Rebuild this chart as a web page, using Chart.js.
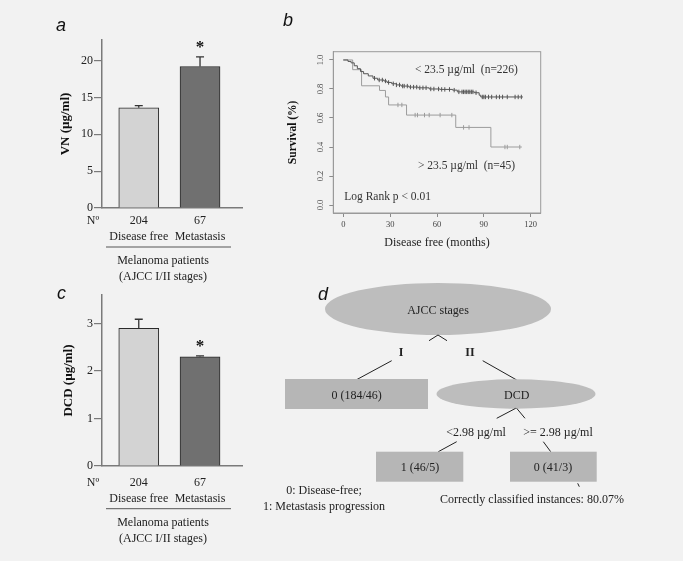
<!DOCTYPE html>
<html>
<head>
<meta charset="utf-8">
<script src="https://cdn.jsdelivr.net/npm/chart.js@4.4.1/dist/chart.umd.min.js"></script>
<style>
  html, body { margin: 0; padding: 0; background: #f2f2f2; }
  #page { position: relative; width: 683px; height: 561px; overflow: hidden; }
  .panel { position: absolute; }
  #overlay { position: absolute; left: 0; top: 0; pointer-events: none; }
</style>
</head>
<body>
<div id="page">
  <canvas id="chartA" class="panel" width="260" height="290" style="left:0;top:0"></canvas>
  <canvas id="chartB" class="panel" width="290" height="255" style="left:270px;top:0"></canvas>
  <canvas id="chartC" class="panel" width="260" height="281" style="left:0;top:280px"></canvas>

  <svg id="overlay" width="683" height="561" font-family="Liberation Serif" font-size="12" fill="#222">
    <g font-family="Liberation Sans" font-style="italic" font-size="18" fill="#111">
      <text x="56" y="31">a</text>
      <text x="283" y="26">b</text>
      <text x="57" y="299">c</text>
      <text x="318" y="300">d</text>
    </g>
    <!-- decision tree (panel d) -->
    <ellipse cx="438" cy="309" rx="113" ry="26" fill="#bdbdbd"/>
    <text x="438" y="310" text-anchor="middle" dominant-baseline="central">AJCC stages</text>
    <polyline points="429,340.7 438,335 447,340.7" fill="none" stroke="#222" stroke-width="1"/>
    <text x="401" y="352" text-anchor="middle" dominant-baseline="central" font-weight="bold">I</text>
    <text x="470" y="352" text-anchor="middle" dominant-baseline="central" font-weight="bold">II</text>
    <line x1="391.7" y1="360.7" x2="356" y2="380" stroke="#222"/>
    <line x1="482.7" y1="360.7" x2="516.7" y2="380" stroke="#222"/>
    <rect x="285" y="379" width="143" height="30" fill="#b6b6b6"/>
    <text x="356.7" y="394.5" text-anchor="middle" dominant-baseline="central">0 (184/46)</text>
    <ellipse cx="516" cy="394" rx="79.5" ry="14.7" fill="#bdbdbd"/>
    <text x="516.7" y="394.5" text-anchor="middle" dominant-baseline="central">DCD</text>
    <line x1="496.7" y1="418.3" x2="515.7" y2="408.3" stroke="#222"/>
    <line x1="516.7" y1="408.3" x2="525" y2="418.3" stroke="#222"/>
    <text x="476" y="432" text-anchor="middle" dominant-baseline="central">&lt;2.98 µg/ml</text>
    <text x="558" y="432" text-anchor="middle" dominant-baseline="central">&gt;= 2.98 µg/ml</text>
    <line x1="456.7" y1="441.7" x2="438.3" y2="451.7" stroke="#222"/>
    <line x1="543.3" y1="441.7" x2="550.7" y2="451.7" stroke="#222"/>
    <rect x="376" y="451.7" width="87.3" height="30" fill="#b6b6b6"/>
    <text x="420" y="467" text-anchor="middle" dominant-baseline="central">1 (46/5)</text>
    <rect x="510" y="451.7" width="86.7" height="30" fill="#b6b6b6"/>
    <text x="553" y="467" text-anchor="middle" dominant-baseline="central">0 (41/3)</text>
    <line x1="577.7" y1="483.3" x2="579.3" y2="486.7" stroke="#222"/>
    <text x="324" y="494" text-anchor="middle">0: Disease-free;</text>
    <text x="324" y="510" text-anchor="middle">1: Metastasis progression</text>
    <text x="440" y="503">Correctly classified instances: 80.07%</text>
  </svg>
</div>

<script>
// ---- data ----
const groups = ['Disease free', 'Metastasis'];
const counts = ['204', '67'];
const groupPos = [1, 2];

const vnMeans = [13.6, 19.2];
const vnErrs = [0.3, 1.3];
const vnTicks = [0, 5, 10, 15, 20];

const dcdMeans = [2.9, 2.3];
const dcdErrs = [0.19, 0.02];
const dcdTicks = [0, 1, 2, 3];

const monthTicks = [0, 30, 60, 90, 120];
const survTicks = [0, 0.2, 0.4, 0.6, 0.8, 1.0];

// Kaplan-Meier steps [months, survival]
const lowVnCurve = [[0, 1.0], [3, 0.99], [5, 0.98], [7, 0.96], [9, 0.94], [11, 0.92], [13, 0.905], [16, 0.89],
  [19, 0.874], [22, 0.862], [26, 0.855], [28, 0.845], [31, 0.836], [34, 0.828], [37, 0.82], [42, 0.813],
  [48, 0.808], [55, 0.8], [62, 0.797], [70, 0.792], [73, 0.78], [84, 0.774], [87, 0.757], [88, 0.745], [115, 0.745]];
const highVnCurve = [[0, 1.0], [6, 0.933], [11.7, 0.822], [23.2, 0.79], [27, 0.745], [29, 0.69],
  [40.5, 0.62], [72, 0.535], [94.5, 0.4], [114.3, 0.4]];
// censored times
const lowVnCensor = [20, 23, 25, 27, 29, 32, 34, 36, 38, 39, 41, 43, 45, 47, 49, 51, 53, 56, 58, 61, 63, 65, 68,
  71, 74, 76, 77, 78, 79, 80, 81, 82, 83, 85, 89, 90, 91, 93, 95, 98, 100, 102, 105, 110, 112, 114];
const highVnCensor = [35, 37.5, 46, 47.5, 52, 55, 62, 69.5, 77, 80.5, 103.5, 105, 113];

const serif = 'Liberation Serif';

function survAt(curve, t) {
  let s = curve[0][1];
  curve.forEach(function (p) { if (p[0] <= t) s = p[1]; });
  return s;
}

// error bars, asterisk, N° and group bracket under the bar charts
const barExtras = {
  id: 'barExtras',
  afterDatasetsDraw: function (chart, args, o) {
    const ctx = chart.ctx;
    const ys = chart.scales.y;
    const meta = chart.getDatasetMeta(0);
    const area = chart.chartArea;
    ctx.save();
    ctx.strokeStyle = '#333';
    ctx.lineWidth = 1.3;
    o.means.forEach(function (m, i) {
      const x = meta.data[i].x;
      const y0 = ys.getPixelForValue(m);
      const y1 = ys.getPixelForValue(m + o.errs[i]);
      ctx.beginPath();
      ctx.moveTo(x, y0); ctx.lineTo(x, y1);
      ctx.moveTo(x - 4, y1); ctx.lineTo(x + 4, y1);
      ctx.stroke();
    });
    // significance mark
    const sx = meta.data[o.starIdx].x;
    const sy = ys.getPixelForValue(o.means[o.starIdx] + o.errs[o.starIdx]) - 12;
    ctx.fillStyle = '#111';
    ctx.font = 'bold 17px "' + serif + '"';
    ctx.textAlign = 'center';
    ctx.textBaseline = 'middle';
    ctx.fillText('*', sx, sy + 3);

    ctx.font = '12px "' + serif + '"';
    ctx.fillStyle = '#222';
    ctx.fillText('N\u00ba', area.left - 9, area.bottom + o.firstLine);

    ctx.strokeStyle = '#555';
    ctx.lineWidth = 1;
    ctx.beginPath();
    ctx.moveTo(106, area.bottom + o.lineOff);
    ctx.lineTo(231, area.bottom + o.lineOff);
    ctx.stroke();
    ctx.fillText('Melanoma patients', 163, area.bottom + o.capOff);
    ctx.fillText('(AJCC I/II stages)', 163, area.bottom + o.capOff + 15.5);
    ctx.restore();
  }
};

function barChart(id, means, errs, yTicks, yMax, yTitle, lay) {
  return new Chart(document.getElementById(id), {
    type: 'bar',
    data: {
      datasets: [{
        data: groupPos.map(function (x, i) { return { x: x, y: means[i] }; }),
        backgroundColor: ['#d3d3d3', '#707070'],
        borderColor: '#2a2a2a',
        borderWidth: 1,
        barThickness: 40
      }]
    },
    options: {
      responsive: false,
      animation: false,
      layout: { padding: { left: lay.padLeft, top: lay.padTop, right: 18, bottom: 0 } },
      plugins: {
        legend: { display: false },
        tooltip: { enabled: false },
        barExtras: { means: means, errs: errs, starIdx: 1, firstLine: lay.firstLine, lineOff: lay.lineOff, capOff: lay.capOff }
      },
      scales: {
        x: {
          type: 'linear',
          offset: false,
          min: 0.4,
          max: 2.685,
          afterBuildTicks: function (s) { s.ticks = groupPos.map(function (v) { return { value: v }; }); },
          afterFit: function (s) { s.height = lay.xHeight; },
          grid: { display: false, drawTicks: false },
          border: { display: true, color: '#7a7a7a', width: 1.5 },
          ticks: {
            padding: lay.tickPad,
            color: '#222',
            font: { family: serif, size: 12, lineHeight: 1.3 },
            maxRotation: 0,
            callback: function (v, i) { return [counts[i], groups[i]]; }
          }
        },
        y: {
          min: 0,
          max: yMax,
          afterBuildTicks: function (s) { s.ticks = yTicks.map(function (v) { return { value: v }; }); },
          afterFit: function (s) { s.width = lay.yWidth; },
          grid: { drawOnChartArea: false, drawTicks: true, tickLength: 8, color: '#7a7a7a', lineWidth: 1.2 },
          border: { display: true, color: '#7a7a7a', width: 1.5 },
          ticks: { padding: 1, color: '#222', font: { family: serif, size: 12 } },
          title: {
            display: true,
            text: yTitle,
            color: '#111',
            padding: { top: lay.titlePad, bottom: 0 },
            font: { family: serif, size: 13, weight: 'bold' }
          }
        }
      }
    },
    plugins: [barExtras]
  });
}

barChart('chartA', vnMeans, vnErrs, vnTicks, 22.8, 'VN (\u00b5g/ml)',
  { padLeft: 54, padTop: 40, yWidth: 48, xHeight: 82, tickPad: 5.2, firstLine: 13, lineOff: 39, capOff: 53, titlePad: 3.5 });
barChart('chartC', dcdMeans, dcdErrs, dcdTicks, 3.6, 'DCD (\u00b5g/ml)',
  { padLeft: 54, padTop: 15, yWidth: 48, xHeight: 95, tickPad: 9.2, firstLine: 17, lineOff: 42.7, capOff: 57, titlePad: 7 });

// ---- survival panel ----
const kmExtras = {
  id: 'kmExtras',
  afterDraw: function (chart) {
    const ctx = chart.ctx;
    const a = chart.chartArea;
    const xs = chart.scales.x, ys = chart.scales.y;
    ctx.save();
    ctx.strokeStyle = '#9a9a9a';
    ctx.lineWidth = 1;
    ctx.strokeRect(a.left, a.top, a.right - a.left, a.bottom - a.top);
    ctx.fillStyle = '#333';
    ctx.font = '11.5px "' + serif + '"';
    ctx.textAlign = 'left';
    ctx.textBaseline = 'middle';
    ctx.fillText('< 23.5 \u00b5g/ml  (n=226)', xs.getPixelForValue(45.9), ys.getPixelForValue(0.931));
    ctx.fillText('> 23.5 \u00b5g/ml  (n=45)', xs.getPixelForValue(47.8), ys.getPixelForValue(0.269));
    ctx.fillText('Log Rank p < 0.01', xs.getPixelForValue(0.6), ys.getPixelForValue(0.057));
    ctx.restore();
  }
};

function toPts(curve) { return curve.map(function (p) { return { x: p[0], y: p[1] }; }); }
function censorPts(curve, times) { return times.map(function (t) { return { x: t, y: survAt(curve, t) }; }); }

new Chart(document.getElementById('chartB'), {
  type: 'scatter',
  data: {
    datasets: [
      { data: toPts(lowVnCurve), showLine: true, stepped: 'before', borderColor: '#555', borderWidth: 1, pointRadius: 0 },
      { data: toPts(highVnCurve), showLine: true, stepped: 'before', borderColor: '#9c9c9c', borderWidth: 1, pointRadius: 0 },
      { data: censorPts(lowVnCurve, lowVnCensor), showLine: false, pointStyle: 'line', pointRotation: 90, pointRadius: 2.2,
        pointBorderColor: '#555', pointBorderWidth: 1 },
      { data: censorPts(highVnCurve, highVnCensor), showLine: false, pointStyle: 'line', pointRotation: 90, pointRadius: 2.2,
        pointBorderColor: '#9c9c9c', pointBorderWidth: 1 }
    ]
  },
  options: {
    responsive: false,
    animation: false,
    layout: { padding: { left: 12, top: 51.7, right: 19.3, bottom: 0 } },
    plugins: { legend: { display: false }, tooltip: { enabled: false } },
    scales: {
      x: {
        min: -6.4,
        max: 126.4,
        afterBuildTicks: function (s) { s.ticks = monthTicks.map(function (v) { return { value: v }; }); },
        afterFit: function (s) { s.height = 42; },
        grid: { drawOnChartArea: false, tickLength: 4, color: '#8a8a8a' },
        border: { display: true, color: '#9a9a9a' },
        ticks: { padding: 3, color: '#444', font: { family: serif, size: 8.5 } },
        title: {
          display: true,
          text: 'Disease free (months)',
          color: '#222',
          padding: { top: 0, bottom: 4.5 },
          font: { family: serif, size: 12 }
        }
      },
      y: {
        min: -0.055,
        max: 1.057,
        afterBuildTicks: function (s) { s.ticks = survTicks.map(function (v) { return { value: v }; }); },
        afterFit: function (s) { s.width = 51.3; },
        grid: { drawOnChartArea: false, tickLength: 4, color: '#8a8a8a' },
        border: { display: true, color: '#9a9a9a' },
        ticks: {
          padding: 3,
          color: '#444',
          crossAlign: 'center',
          minRotation: 90,
          maxRotation: 90,
          font: { family: serif, size: 8.5 },
          callback: function (v) { return v.toFixed(1); }
        },
        title: {
          display: true,
          text: 'Survival (%)',
          color: '#111',
          padding: { top: 4, bottom: 0 },
          font: { family: serif, size: 11.5, weight: 'bold' }
        }
      }
    }
  },
  plugins: [kmExtras]
});
</script>
</body>
</html>
